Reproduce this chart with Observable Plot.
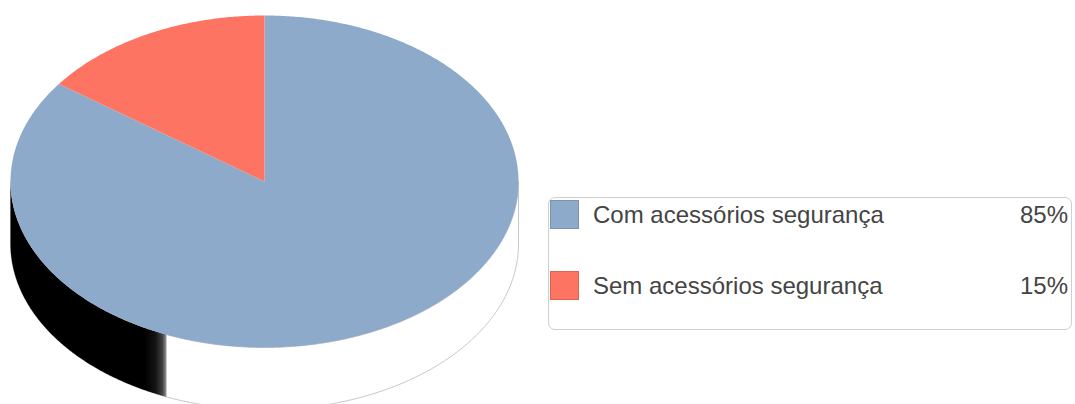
<!DOCTYPE html>
<html>
<head>
<meta charset="utf-8">
<script src="https://cdn.jsdelivr.net/npm/d3@7"></script>
<script src="https://cdn.jsdelivr.net/npm/@observablehq/plot@0.6"></script>
<style>
  html, body { margin: 0; padding: 0; background: #fff; }
  #wrap { position: relative; width: 1075px; height: 404px; overflow: hidden; font-family: Arial, "Liberation Sans", sans-serif; }
  #legend { position: absolute; left: 548px; top: 197px; width: 522px; height: 131px; border: 1px solid #cfcfcf; border-radius: 7px; box-sizing: content-box; }
  .sw { position: absolute; left: 1px; width: 27px; height: 27px; border: 1px solid; }
  .lab, .pct { position: absolute; font-size: 24px; line-height: 24px; color: #444; white-space: nowrap; }
  .lab { left: 44px; }
  .pct { right: 3px; }
</style>
</head>
<body>
<div id="wrap"></div>
<script>
// ---- data ----
const categories = ["Com acessórios segurança", "Sem acessórios segurança"];
const values = [85, 15];
const pctLabels = ["85%", "15%"];
const colors = ["#8eaacb", "#fd7462"];

// ---- geometry (unit ellipse, y grows downward, angle clockwise from top) ----
const depth = 0.375;        // thickness of the pie, in vertical radius units
const shadeFrom = 202.7;    // angle where the dark side shading begins
const pt = (deg, dy = 0) => {
  const r = deg * Math.PI / 180;
  return {x: Math.sin(r), y: -Math.cos(r) + dy};
};
const arc = (a0, a1, dy = 0) => {
  const n = Math.max(2, Math.ceil(Math.abs(a1 - a0) / 0.5));
  return d3.range(n + 1).map(i => pt(a0 + (a1 - a0) * i / n, dy));
};

const total = d3.sum(values);
let acc = 0;
const slicePts = [];
categories.forEach((c, i) => {
  const a0 = acc / total * 360;
  acc += values[i];
  const a1 = acc / total * 360;
  [{x: 0, y: 0}, ...arc(a0, a1), {x: 0, y: 0}].forEach(p => slicePts.push({...p, cat: c}));
});

const sidePts = [...arc(90, 270), ...arc(270, 90, depth)];
const shadePts = [...arc(shadeFrom, 270), ...arc(270, shadeFrom, depth)];

const plot = Plot.plot({
  width: 1075,
  height: 404,
  margin: 0,
  style: {background: "white"},
  x: {domain: [-1, 1], range: [10, 518], axis: null},
  y: {domain: [-1, 1], range: [15, 347], axis: null},
  color: {domain: categories, range: colors},
  marks: [
    Plot.line(sidePts, {x: "x", y: "y", curve: "linear-closed", fill: "white", stroke: "#c6c6c6", strokeWidth: 1}),
    Plot.line(shadePts, {x: "x", y: "y", curve: "linear-closed", fill: "url(#sideShade)", stroke: "none"}),
    Plot.line(slicePts, {x: "x", y: "y", z: "cat", curve: "linear-closed", fill: "cat", stroke: "none"})
  ]
});

const svg = d3.select(plot);
const grad = svg.insert("defs", ":first-child")
  .append("linearGradient").attr("id", "sideShade")
  .attr("x1", 0).attr("x2", 1).attr("y1", 0).attr("y2", 0);
[[0, "#000"], [0.86, "#000"], [0.93, "#141414"], [0.975, "#444"], [1, "#9a9a9a"]]
  .forEach(([o, c]) => grad.append("stop").attr("offset", o).attr("stop-color", c));

const wrap = document.getElementById("wrap");
wrap.appendChild(plot);

// ---- legend ----
const legend = d3.select(wrap).append("div").attr("id", "legend");
const rowTops = [2, 73];
categories.forEach((c, i) => {
  legend.append("div").attr("class", "sw")
    .style("top", rowTops[i] + "px")
    .style("background", colors[i])
    .style("border-color", d3.color(colors[i]).darker(0.4));
  legend.append("div").attr("class", "lab").style("top", (rowTops[i] + 3) + "px").text(c);
  legend.append("div").attr("class", "pct").style("top", (rowTops[i] + 3) + "px").text(pctLabels[i]);
});
</script>
</body>
</html>
